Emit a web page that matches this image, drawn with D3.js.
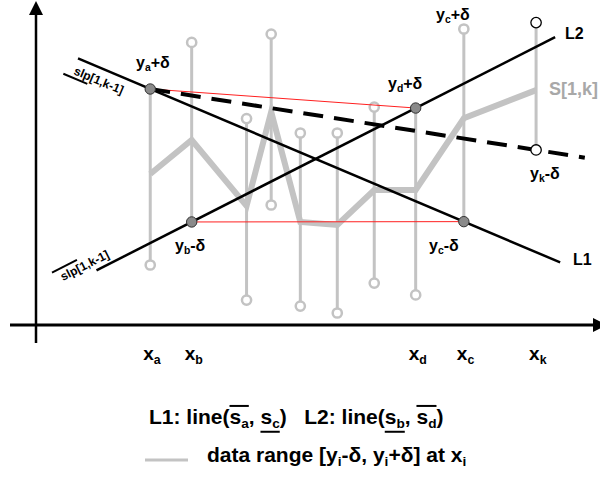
<!DOCTYPE html>
<html>
<head>
<meta charset="utf-8">
<script src="https://cdn.jsdelivr.net/npm/d3@7"></script>
<style>
  body { margin: 0; background: #fff; }
  svg text { font-family: "Liberation Sans", Arial, sans-serif; font-weight: bold; white-space: pre; }
</style>
</head>
<body>
<div id="chart"></div>
<script>
// ----- data (x in time units, y in value units) -------
const xs     = [20.4, 27.8, 37.6, 42.0, 47.2, 53.8, 60.4, 67.8, 76.4, 89.3];
const yUpper = [73.75, 88.3, 64.5, 90.9, 60.0, 60.0, 68.1, 67.8, 92.5, 94.5];
const yMid   = [47.2, 57.8, 37.2, 66.6, 32.2, 31.25, 42.2, 42.2, 64.6, 73.4];
const yLower = [18.75, 32.2, 7.8, 37.5, 5.9, 3.75, 13.1, 9.4, 32.3, 54.7];
const tickIdx = [0, 1, 7, 8, 9];
const tickSub = ["a", "b", "d", "c", "k"];

// special points: [column, "hi"/"lo"]
const keyPts = [[0, "hi"], [1, "lo"], [7, "hi"], [8, "lo"]];
const kPts = [[9, "hi"], [9, "lo"]];

// lines (through two points) and how far they run in x
const l1Def = {a: [0, "hi"], b: [8, "lo"], span: [7.5, 93.6]};
const l2Def = {a: [1, "lo"], b: [7, "hi"], span: [10.8, 92.7]};
const dashDef = {a: [0, "hi"], b: [9, "lo"], span: [20.4, 98.0]};

const W = 600, H = 477;
const x = d3.scaleLinear().domain([0, 100]).range([36, 596]);
const y = d3.scaleLinear().domain([0, 100]).range([325, 5]);

const svg = d3.select("#chart").append("svg").attr("width", W).attr("height", H);

const val = (i, w) => (w === "hi" ? yUpper[i] : yLower[i]);
const pt = ([i, w]) => ({x: xs[i], y: val(i, w)});

// ----- axes -------
svg.append("line").attr("x1", x(0)).attr("x2", x(0)).attr("y1", y(0) + 18).attr("y2", 12)
  .attr("stroke", "black").attr("stroke-width", 2.5);
svg.append("path").attr("d", `M${x(0)},1 L${x(0) - 7},15 L${x(0) + 7},15 Z`).attr("fill", "black");
svg.append("line").attr("x1", 10).attr("x2", 595).attr("y1", y(0)).attr("y2", y(0))
  .attr("stroke", "black").attr("stroke-width", 3);
svg.append("path").attr("d", `M607,${y(0)} L593,${y(0) - 7} L593,${y(0) + 7} Z`).attr("fill", "black");

// ----- data ranges -------
const cols = xs.map((v, i) => ({x: v, hi: yUpper[i], mid: yMid[i], lo: yLower[i], i: i}));

svg.selectAll(".range").data(cols).join("line")
  .attr("class", "range")
  .attr("x1", d => x(d.x)).attr("x2", d => x(d.x))
  .attr("y1", d => y(d.hi)).attr("y2", d => y(d.lo))
  .attr("stroke", "#c3c3c3").attr("stroke-width", 3);

svg.append("path")
  .datum(cols)
  .attr("d", d3.line().x(d => x(d.x)).y(d => y(d.mid)))
  .attr("fill", "none").attr("stroke", "#c3c3c3").attr("stroke-width", 6)
  .attr("stroke-linejoin", "miter").attr("stroke-miterlimit", 10);

const isIn = (list, i, w) => list.some(p => p[0] === i && p[1] === w);
const ends = [];
cols.forEach(c => {
  ["hi", "lo"].forEach(w => {
    if (!isIn(keyPts, c.i, w) && !isIn(kPts, c.i, w)) ends.push({x: c.x, y: c[w]});
  });
});

svg.selectAll(".end").data(ends).join("circle")
  .attr("class", "end")
  .attr("cx", d => x(d.x)).attr("cy", d => y(d.y)).attr("r", 4.6)
  .attr("fill", "white").attr("stroke", "#c3c3c3").attr("stroke-width", 2.5);

// ----- red helper lines -------
[[keyPts[0], keyPts[2]], [keyPts[1], keyPts[3]]].forEach(([p, q]) => {
  svg.append("line")
    .attr("x1", x(pt(p).x)).attr("y1", y(pt(p).y))
    .attr("x2", x(pt(q).x)).attr("y2", y(pt(q).y))
    .attr("stroke", "#ff2020").attr("stroke-width", 1);
});

// ----- L1, L2 and dashed line -------
function drawLine(def, width, dash) {
  const p = pt(def.a), q = pt(def.b);
  const f = xv => p.y + (q.y - p.y) * (xv - p.x) / (q.x - p.x);
  const ln = svg.append("line")
    .attr("x1", x(def.span[0])).attr("y1", y(f(def.span[0])))
    .attr("x2", x(def.span[1])).attr("y2", y(f(def.span[1])))
    .attr("stroke", "black").attr("stroke-width", width);
  if (dash) ln.attr("stroke-dasharray", dash);
  const ang = Math.atan2(y(q.y) - y(p.y), x(q.x) - x(p.x)) * 180 / Math.PI;
  return ang;
}
const a1 = drawLine(l1Def, 2.5);
const a2 = drawLine(l2Def, 2.5);
drawLine(dashDef, 4, "20,11");

// ----- key points -------
svg.selectAll(".key").data(keyPts.map(pt)).join("circle")
  .attr("class", "key")
  .attr("cx", d => x(d.x)).attr("cy", d => y(d.y)).attr("r", 5.2)
  .attr("fill", "#8a8a8a").attr("stroke", "#333").attr("stroke-width", 1);

svg.selectAll(".kpt").data(kPts.map(pt)).join("circle")
  .attr("class", "kpt")
  .attr("cx", d => x(d.x)).attr("cy", d => y(d.y)).attr("r", 5.2)
  .attr("fill", "white").attr("stroke", "black").attr("stroke-width", 1.3);

// ----- text helper with subscripts and over/underlines -------
function richText(g, px, py, size, parts, fill) {
  const t = g.append("text").attr("x", px).attr("y", py)
    .style("font-size", size + "px").attr("fill", fill || "black");
  let shift = 0;
  const nodes = [];
  parts.forEach(p => {
    const ts = t.append("tspan").text(p.t);
    const want = p.sub ? size * 0.2 : 0;
    let dy = want - shift;
    if (dy !== 0) ts.attr("dy", dy);
    shift = want;
    if (p.sub) ts.style("font-size", (size * 0.65) + "px");
    if (p.dx) ts.attr("dx", p.dx);
    nodes.push({node: ts.node(), p: p});
  });
  // decorations
  const groups = {};
  nodes.forEach(n => {
    if (n.p.grp) (groups[n.p.grp] = groups[n.p.grp] || []).push(n);
  });
  Object.values(groups).forEach(gr => {
    const first = gr[0].node, last = gr[gr.length - 1].node;
    const x0 = first.getStartPositionOfChar(0).x;
    const x1 = last.getEndPositionOfChar(last.textContent.length - 1).x;
    const ly = gr[0].p.deco === "over" ? py - size * 0.86 : py + size * 0.37;
    g.append("line").attr("x1", x0).attr("x2", x1).attr("y1", ly).attr("y2", ly)
      .attr("stroke", "black").attr("stroke-width", 2);
  });
  return t;
}

// ----- point labels -------
const ptLabels = [
  {sub: "a", sign: "+δ", at: [136, 68]},
  {sub: "b", sign: "-δ", at: [175, 251]},
  {sub: "d", sign: "+δ", at: [388, 88.5]},
  {sub: "c", sign: "+δ", at: [436, 19.5]},
  {sub: "k", sign: "-δ", at: [530, 178.5]},
  {sub: "c", sign: "-δ", at: [429, 251]}
];
ptLabels.forEach(l => {
  richText(svg, l.at[0], l.at[1], 16, [{t: "y"}, {t: l.sub, sub: true}, {t: l.sign}]);
});

// ----- x labels -------
tickIdx.forEach((ci, k) => {
  richText(svg, x(xs[ci]) - 7, 360, 19, [{t: "x"}, {t: tickSub[k], sub: true}]);
});

// ----- line labels -------
svg.append("text").attr("x", 573).attr("y", 265).style("font-size", "16px").text("L1");
svg.append("text").attr("x", 565).attr("y", 39).style("font-size", "16px").text("L2");
svg.append("text").attr("x", 549).attr("y", 95).style("font-size", "18px")
  .attr("fill", "#a8a8a8").text("S[1,k]");

// slope labels along L1 and L2
const s1 = svg.append("g").attr("transform", `translate(73,74) rotate(${a1})`);
s1.append("text").style("font-size", "12px").text("slp[1,k-1]");
s1.append("line").attr("x1", -9).attr("x2", 17).attr("y1", 3.5).attr("y2", 3.5)
  .attr("stroke", "black").attr("stroke-width", 2);

const s2 = svg.append("g").attr("transform", `translate(63,281) rotate(${a2})`);
s2.append("text").style("font-size", "12px").text("slp[1,k-1]");
s2.append("line").attr("x1", -6).attr("x2", 22).attr("y1", -12.5).attr("y2", -12.5)
  .attr("stroke", "black").attr("stroke-width", 2);

// ----- legend -------
richText(svg, 149, 424, 21, [
  {t: "L1: line("},
  {t: "s", grp: "g1", deco: "over"}, {t: "a", sub: true, grp: "g1", deco: "over"},
  {t: ", "},
  {t: "s", grp: "g2", deco: "under"}, {t: "c", sub: true, grp: "g2", deco: "under"},
  {t: ")   L2: line("},
  {t: "s", grp: "g3", deco: "under"}, {t: "b", sub: true, grp: "g3", deco: "under"},
  {t: ", "},
  {t: "s", grp: "g4", deco: "over"}, {t: "d", sub: true, grp: "g4", deco: "over"},
  {t: ")"}
]);

svg.append("line").attr("x1", 145).attr("x2", 188).attr("y1", 460).attr("y2", 460)
  .attr("stroke", "#c3c3c3").attr("stroke-width", 3);
richText(svg, 207, 462, 21, [
  {t: "data range [y"}, {t: "i", sub: true}, {t: "-δ, y"}, {t: "i", sub: true},
  {t: "+δ] at x"}, {t: "i", sub: true}
]);
</script>
</body>
</html>
